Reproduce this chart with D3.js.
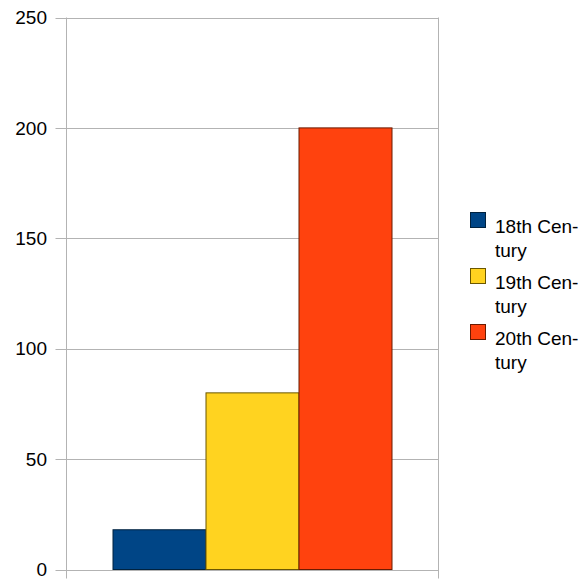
<!DOCTYPE html>
<html><head><meta charset="utf-8">
<script src="https://d3js.org/d3.v7.min.js"></script>
<style>body{margin:0;background:#fff}svg{display:block}</style>
</head><body>
<svg id="c" width="588" height="579"></svg>
<script>
const series = ["18th Century", "19th Century", "20th Century"];
const legendLines = [["18th Cen-", "tury"], ["19th Cen-", "tury"], ["20th Cen-", "tury"]];
const values = [18, 80, 200];
const colors = ["#004586", "#ffd320", "#ff420e"];
const strokes = ["#00223f", "#6b5700", "#6b1a00"];
const yTicks = [0, 50, 100, 150, 200, 250];

const svg = d3.select("#c");
const pL = 66.5, pR = 438.5, pT = 17.5, pB = 569.5;
const font = "Liberation Sans, Arial, sans-serif";

const y = d3.scaleLinear().domain([0, 250]).range([pB, pT]);
const x = d3.scaleBand().domain(series).range([pL, pR]).paddingInner(0).paddingOuter(0.5);

// gridlines
svg.append("g").selectAll("line").data(yTicks).join("line")
  .attr("x1", pL - 11).attr("x2", pR)
  .attr("y1", d => Math.round(y(d)) + 0.5).attr("y2", d => Math.round(y(d)) + 0.5)
  .attr("stroke", "#b3b3b3").attr("stroke-width", 1);

// vertical borders
svg.append("line").attr("x1", pL).attr("x2", pL).attr("y1", pT).attr("y2", pB + 9)
  .attr("stroke", "#b3b3b3");
svg.append("line").attr("x1", pR).attr("x2", pR).attr("y1", pT).attr("y2", pB + 9)
  .attr("stroke", "#b3b3b3");

// y labels
svg.append("g").selectAll("text").data(yTicks).join("text")
  .attr("x", 47).attr("y", d => y(d)).attr("dy", "0.35em")
  .attr("text-anchor", "end").attr("font-family", font).attr("font-size", 19)
  .attr("fill", "#000").text(d => d);

// bars
svg.append("g").selectAll("rect").data(series).join("rect")
  .attr("x", d => x(d)).attr("width", x.bandwidth())
  .attr("y", (d, i) => y(values[i])).attr("height", (d, i) => y(0) - y(values[i]))
  .attr("fill", (d, i) => colors[i]).attr("stroke", (d, i) => strokes[i]).attr("stroke-width", 1);

// legend
const lg = svg.append("g").selectAll("g").data(series).join("g")
  .attr("transform", (d, i) => `translate(0,${i * 56})`);
lg.append("rect").attr("x", 470.5).attr("y", 212.5).attr("width", 15).attr("height", 15)
  .attr("fill", (d, i) => colors[i]).attr("stroke", (d, i) => strokes[i]);
lg.each(function(d, i) {
  d3.select(this).selectAll("text").data(legendLines[i]).join("text")
    .attr("x", 495).attr("y", (t, j) => 226 + j * 24).attr("dy", "0.35em")
    .attr("font-family", font).attr("font-size", 19).attr("fill", "#000").text(t => t);
});
</script>
</body></html>
